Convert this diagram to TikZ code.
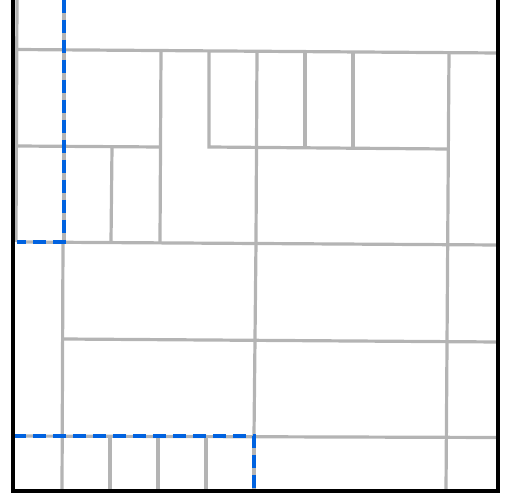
\documentclass[tikz,border=0pt]{standalone}
\usepackage{tikz}
\usetikzlibrary{calc}
\definecolor{wallGray}{HTML}{B4B4B4}
\definecolor{pathBlue}{HTML}{0062E0}

\begin{document}
\begin{tikzpicture}[x=1pt, y=-1pt,
  wall/.style={draw=wallGray, line width=3.2pt},
  route/.style={draw=pathBlue, line width=3.2pt, dash pattern=on 13pt off 7pt},
  frame/.style={draw=black, line width=3.4pt},
]
  \useasboundingbox (0,0) rectangle (507,497);
  \def\xl{13}\def\xr{498}\def\yb{491}
  % grey walls
  \draw[wall] (17,0) -- (16,242);
  \draw[wall] (17,49.5) -- (\xr,53);
  \draw[wall] (161,51) -- (160,242);
  \draw[wall] (17,146) -- (160,147);
  \draw[wall] (112,147) -- (111,242);
  \draw[wall] (209,52) -- (209,147) -- (447,149);
  \draw[wall] (257,52) -- (256,242) -- (254,436);
  \draw[wall] (305,52) -- (305,148);
  \draw[wall] (353,52) -- (353,148);
  \draw[wall] (449,53) -- (446,\yb);
  \draw[wall] (17,242) -- (\xr,245);
  \draw[wall] (64,0) -- (64,242);
  \draw[wall] (63,242) -- (62,\yb);
  \draw[wall] (63,339) -- (\xr,342);
  \draw[wall] (\xl,436) -- (\xr,437.5);
  \foreach \x in {110,158,206,254}{
    \draw[wall] (\x,436) -- (\x,\yb);}
  % dashed route
  \draw[route] (64,0) -- (64,242) -- (17,242);
  \draw[route] (\xl,436) -- (254,436) -- (254,\yb);
  % outer frame
  \draw[frame] (\xl,0) -- (\xl,\yb) -- (\xr,\yb) -- (\xr,0);
\end{tikzpicture}
\end{document}
